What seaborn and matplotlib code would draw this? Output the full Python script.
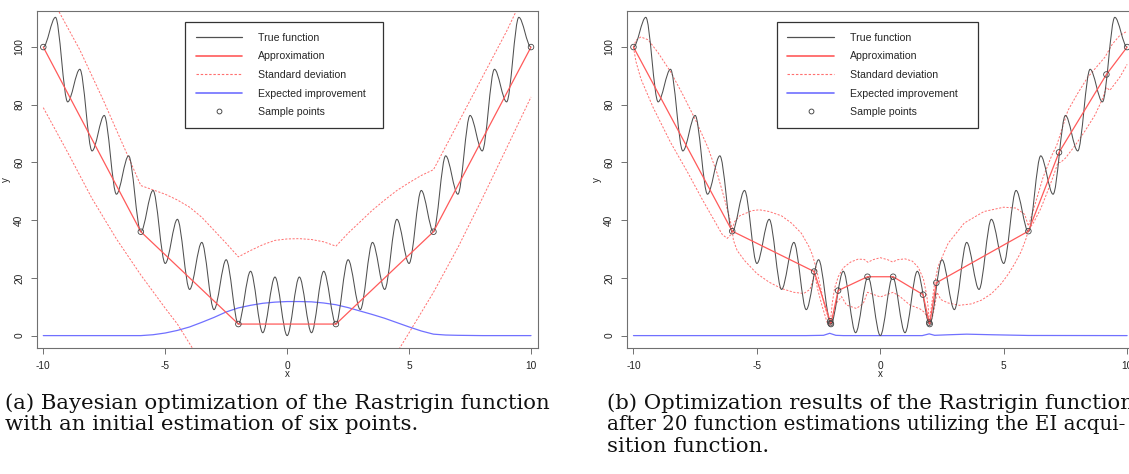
import numpy as np
import pandas as pd
import matplotlib
matplotlib.use("Agg")
import matplotlib.pyplot as plt
import seaborn as sns
from matplotlib.path import Path
from matplotlib.patches import PathPatch
from matplotlib.lines import Line2D

# ---------------- data ----------------
# extrema of the true (Rastrigin) function: troughs at integers, peaks at half integers
true_x = [-10, -9.5, -9, -8.5, -8, -7.5, -7, -6.5, -6, -5.5, -5, -4.5, -4, -3.5, -3, -2.5,
          -2, -1.5, -1, -0.5, 0, 0.5, 1, 1.5, 2, 2.5, 3, 3.5, 4, 4.5, 5, 5.5, 6, 6.5, 7,
          7.5, 8, 8.5, 9, 9.5, 10]
true_y = [100, 110.3, 81, 92.3, 64, 76.3, 49, 62.3, 36, 50.3, 25, 40.3, 16, 32.3, 9, 26.3,
          4, 22.3, 1, 20.3, 0, 20.3, 1, 22.3, 4, 26.3, 9, 32.3, 16, 40.3, 25, 50.3, 36, 62.3,
          49, 76.3, 64, 92.3, 81, 110.3, 100]

# panel (a): six initial points
a_sample_x = [-10, -6, -2, 2, 6, 10]
a_sample_y = [100, 36, 4, 4, 36, 100]

a_sd_up_x = [-10, -9.34, -8.5, -7.54, -6.58, -6.0, -5.5, -5.0, -4.5, -4.0, -3.5, -3.0, -2.5,
             -2.0, -1.5, -1.0, -0.5, 0.0, 0.5, 1.0, 1.5, 2.0, 2.5, 3.0, 3.5, 4.0, 4.5, 5.0,
             5.5, 6.0, 7.0, 8.0, 9.0, 9.4, 10]
a_sd_up_y = [122, 112, 99, 81.6, 63.2, 52, 50.5, 49, 47, 44.5, 41, 36.5, 32, 27.3, 29.5,
             31.5, 33, 33.5, 33.6, 33.3, 32.5, 31, 35.5, 39.5, 43.5, 47, 50.3, 53, 55.5,
             57.5, 73.5, 89.5, 105.5, 112.6, 122]
a_sd_lo_left_x = [-10, -9, -8, -7, -6, -5, -4.5, -3.88, -3.6]
a_sd_lo_left_y = [79, 63.5, 47.5, 33.5, 21, 9.5, 4, -4.4, -8]
a_sd_lo_right_x = [4.35, 4.61, 5, 6, 7, 8, 9, 10]
a_sd_lo_right_y = [-8, -4.4, 1, 15, 30.5, 47.5, 65, 82.7]

a_ei_x = [-10, -6, -5.5, -5, -4.5, -4, -3.5, -3, -2.5, -2, -1.5, -1, -0.5, 0, 0.5, 1, 1.5,
          2, 2.5, 3, 3.5, 4, 4.5, 5, 5.5, 6, 6.5, 7, 8, 10]
a_ei_y = [0, 0, 0.3, 0.9, 1.8, 3.0, 4.6, 6.3, 8.2, 9.6, 10.5, 11.2, 11.6, 11.8, 11.8, 11.7,
          11.3, 10.7, 9.7, 8.5, 7.3, 6.0, 4.5, 3.0, 1.6, 0.5, 0.2, 0.1, 0, 0]

# panel (b): after 20 evaluations
b_sample_x = [-10, -6, -2.68, -2.03, -2.02, -2.0, -1.71, -0.52, 0.52, 1.73, 1.98, 2.0, 2.27,
              6, 7.24, 9.16, 10]
b_sample_y = [100, 36.2, 22.2, 5.0, 4.3, 4.0, 15.6, 20.4, 20.4, 14.2, 4.5, 4.0, 18.3,
              36.2, 63.5, 90.5, 100]

b_sd_up_x = [-10, -9.9, -9.7, -9.4, -9.0, -8.5, -8.0, -7.5, -7.0, -6.6, -6.3, -6.1, -6.0,
             -5.9, -5.7, -5.2, -4.9, -4.5, -4.0, -3.6, -3.2, -2.9, -2.75, -2.62, -2.45,
             -2.25, -2.1, -2.02, -1.95, -1.85, -1.7, -1.5, -1.2, -0.9, -0.65, -0.5, -0.3,
             0.0, 0.3, 0.5, 0.7, 1.0, 1.3, 1.55, 1.75, 1.88, 1.95, 1.98, 2.1, 2.2, 2.34,
             2.75, 3.4, 4.2, 5.0, 5.5, 5.85, 6.0, 6.2, 6.6, 6.95, 7.15, 7.3, 7.6, 8.0, 8.4,
             8.8, 9.1, 9.4, 9.7, 10.0]
b_sd_up_y = [100, 102.3, 103.5, 102.5, 98, 91.5, 83.5, 75, 65.5, 56, 47, 40.5, 37,
             39.5, 41.5, 43.3, 43.6, 43, 41.5, 39, 35.5, 31, 28, 24, 18,
             10, 6, 4.8, 11, 16.5, 20.5, 23.5, 25.5, 26.5, 26.4, 25.4, 26.3,
             27.0, 26.3, 25.5, 26.3, 26.6, 25.8, 23.5, 19.5, 14, 9, 4.2, 12, 18, 24,
             32, 39, 43, 44.5, 44.2, 42, 38, 43.5, 55, 62.5, 66, 70, 78, 84, 89.5,
             93.5, 96.5, 101, 104, 105.5]
b_sd_lo_x = [-10, -9.9, -9.7, -9.2, -8.5, -7.8, -7.2, -6.7, -6.4, -6.2, -6.05, -6.0, -5.95,
             -5.8, -5.5, -5.0, -4.5, -4.0, -3.5, -3.1, -2.85, -2.72, -2.68, -2.55, -2.35,
             -2.15, -2.02, -1.9, -1.8, -1.57, -1.37, -0.97, -0.69, -0.52, 0.0, 0.52, 0.8,
             1.2, 1.6, 1.8, 1.95, 1.98, 2.1, 2.2, 2.3, 2.45, 2.75, 3.2, 3.7, 4.1, 4.5, 4.9,
             5.2, 5.45, 5.7, 5.9, 6.0, 6.2, 6.5, 6.8, 7.0, 7.2, 7.3, 7.5, 7.9, 8.3, 8.7, 9.0,
             9.16, 9.3, 9.7, 10.0]
b_sd_lo_y = [100, 95, 89, 79, 67, 56.5, 47, 39.5, 35, 33.7, 35, 36.6, 33,
             29.5, 26, 21.5, 18.5, 16.3, 15, 14.6, 16, 19.5, 22.4, 16.5, 10,
             4.5, 3.5, 7, 11, 13.5, 10.6, 9.4, 11.1, 15, 13.4, 15, 13.5,
             10.6, 9.3, 8, 5, 4.2, 6, 10, 15, 12.5, 11.3, 10.5, 11, 12.3, 14.5, 18,
             21.5, 25, 29, 33.5, 36.6, 39, 44, 50.5, 55, 60, 60, 61.5, 66, 71, 76.5, 82,
             86, 85, 89.5, 94]

b_ei_x = [-10, -3, -2.3, -2.05, -1.8, -1.5, 1.7, 1.98, 2.2, 2.8, 3.5, 4.5, 6, 10]
b_ei_y = [0, 0, 0.1, 0.8, 0.1, 0, 0, 0.6, 0.1, 0.3, 0.5, 0.3, 0.05, 0]

legend_labels = ["True function", "Approximation", "Standard deviation",
                 "Expected improvement", "Sample points"]
x_ticks = [-10, -5, 0, 5, 10]
y_ticks = [0, 20, 40, 60, 80, 100]
caption_a = ["(a) Bayesian optimization of the Rastrigin function",
             "with an initial estimation of six points."]
caption_b = ["(b) Optimization results of the Rastrigin function",
             "after 20 function estimations utilizing the EI acqui-",
             "sition function."]

# ---------------- style ----------------
sns.set_style("white")
plt.rcParams['font.family'] = ['Liberation Sans', 'DejaVu Sans']

C_TRUE = '#505050'
C_APPROX = '#ff5a5a'
C_SD = '#ff7070'
C_EI = '#7070ff'
C_AX = '#707070'
CAP_FONT = 'DejaVu Serif'

W, H = 1129, 474
fig = plt.figure(figsize=(W / 100, H / 100), dpi=100)

ax_a = fig.add_axes([36.7 / W, 1 - 348.3 / H, 500.9 / W, 337.6 / H])
ax_b = fig.add_axes([626.8 / W, 1 - 348.3 / H, 507.0 / W, 337.6 / H])


def true_path(ax):
    verts = [(true_x[0], true_y[0])]
    codes = [Path.MOVETO]
    for i in range(len(true_x) - 1):
        x0, y0, x1, y1 = true_x[i], true_y[i], true_x[i + 1], true_y[i + 1]
        h = x1 - x0
        verts += [(x0 + h / 3, y0), (x1 - h / 3, y1), (x1, y1)]
        codes += [Path.CURVE4] * 3
    patch = PathPatch(Path(verts, codes), fill=False, edgecolor=C_TRUE, lw=0.75,
                      transform=ax.transData, zorder=3)
    ax.add_patch(patch)


def line(ax, xs, ys, color, lw, dashed=False, z=2):
    sns.lineplot(x=xs, y=ys, ax=ax, color=color, lw=lw, estimator=None, sort=False,
                 linestyle=(0, (2.2, 1.6)) if dashed else '-', zorder=z)


def panel(ax, sx, sy, sd_sets, eix, eiy, legend_w):
    true_path(ax)
    for xs, ys in sd_sets:
        line(ax, xs, ys, C_SD, 0.7, dashed=True, z=2)
    line(ax, sx, sy, C_APPROX, 0.9, z=4)
    line(ax, eix, eiy, C_EI, 0.9, z=2)
    sns.scatterplot(x=sx, y=sy, ax=ax, marker='o', s=16, facecolor='none',
                    edgecolor='#444444', linewidth=0.6, zorder=5)
    ax.set_xlim(-10.27, 10.27)
    ax.set_ylim(-4.4, 112.6)
    ax.set_xticks(x_ticks)
    ax.set_xticklabels([str(v) for v in x_ticks])
    ax.set_yticks(y_ticks)
    ax.set_yticklabels([str(v) for v in y_ticks], rotation=90, va='center')
    ax.tick_params(axis='both', direction='out', length=4, width=0.7, color=C_AX,
                   labelsize=7.3, labelcolor='#222222', pad=5,
                   bottom=True, left=True, top=False, right=False)
    ax.tick_params(axis='y', pad=5)
    for s in ax.spines.values():
        s.set_visible(True)
        s.set_color(C_AX)
        s.set_linewidth(0.8)
    ax.set_xlabel('x', fontsize=7, labelpad=-1, color='#222222')
    ax.set_ylabel('y', fontsize=7, labelpad=2, color='#222222')
    handles = [Line2D([], [], color=C_TRUE, lw=0.9),
               Line2D([], [], color=C_APPROX, lw=1.2),
               Line2D([], [], color=C_SD, lw=0.8, linestyle=(0, (2.2, 1.6))),
               Line2D([], [], color=C_EI, lw=1.2),
               Line2D([], [], color='#333333', marker='o', markersize=3.5,
                      markerfacecolor='none', markeredgewidth=0.6, linestyle='none')]
    top = 0.9665
    leg = ax.legend(handles, legend_labels, loc='upper left',
                    bbox_to_anchor=(0.296, top - 0.31, legend_w, 0.31), mode='expand',
                    frameon=True, fancybox=False, edgecolor='#333333', framealpha=1,
                    fontsize=7.6, handlelength=4.45, handletextpad=1.45, labelspacing=0.82,
                    borderpad=1.0, borderaxespad=0)
    leg.get_frame().set_linewidth(0.9)


panel(ax_a, a_sample_x, a_sample_y,
      [(a_sd_up_x, a_sd_up_y), (a_sd_lo_left_x, a_sd_lo_left_y),
       (a_sd_lo_right_x, a_sd_lo_right_y)], a_ei_x, a_ei_y, 198 / 500.9)
panel(ax_b, b_sample_x, b_sample_y,
      [(b_sd_up_x, b_sd_up_y), (b_sd_lo_x, b_sd_lo_y)], b_ei_x, b_ei_y, 201 / 507.0)

# ---------------- captions ----------------
fig.canvas.draw()
r = fig.canvas.get_renderer()


def fit(text, target):
    probe = fig.text(0, 0, text, fontsize=14, family=CAP_FONT)
    wpx = probe.get_window_extent(r).width
    probe.remove()
    return 14 * target / wpx


fs = fit(caption_a[0], 547)
fs_b2 = min(fs, fit(caption_b[1], 519))

for i, t in enumerate(caption_a):
    fig.text(5 / W, 1 - (403 + 22 * i) / H, t, fontsize=fs, family=CAP_FONT,
             va='center', ha='left', color='#111111')
for i, t in enumerate(caption_b):
    fig.text(607 / W, 1 - (403 + 22 * i) / H, t, fontsize=fs_b2 if i == 1 else fs,
             family=CAP_FONT, va='center', ha='left', color='#111111')

fig.savefig('out.png', dpi=100)
